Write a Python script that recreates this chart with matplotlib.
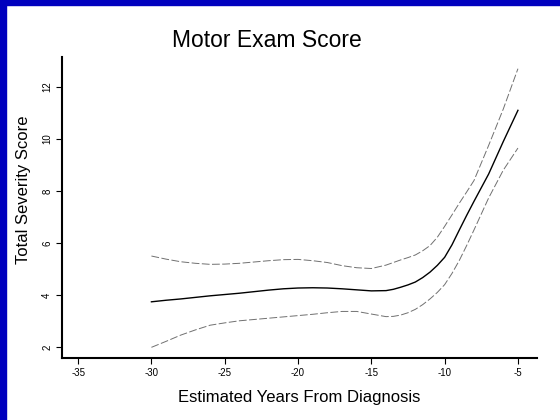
import matplotlib.pyplot as plt
from matplotlib.patches import Rectangle

plt.rcParams['font.family'] = ['Liberation Sans', 'DejaVu Sans']
plt.rcParams['axes.unicode_minus'] = False

# fitted severity curve with pointwise bands
years = [-30, -29, -28, -27, -26, -25, -24, -23, -22, -21, -20, -19, -18,
         -17, -16, -15, -14, -13.5, -13, -12.5, -12, -11.5, -11, -10.5, -10,
         -9.5, -9, -8.5, -8, -7, -6, -5]
fit = [3.74, 3.80, 3.85, 3.91, 3.97, 4.02, 4.07, 4.13, 4.19, 4.24, 4.27, 4.28, 4.27,
       4.24, 4.20, 4.16, 4.17, 4.22, 4.30, 4.39, 4.50, 4.67, 4.88, 5.14, 5.45,
       5.93, 6.50, 7.06, 7.60, 8.65, 9.90, 11.10]
upper = [5.50, 5.38, 5.28, 5.22, 5.18, 5.19, 5.22, 5.27, 5.32, 5.36, 5.37, 5.32, 5.25,
         5.13, 5.05, 5.02, 5.15, 5.25, 5.35, 5.44, 5.54, 5.70, 5.90, 6.22, 6.64,
         7.08, 7.53, 7.96, 8.40, 9.75, 11.15, 12.70]
lower = [1.99, 2.22, 2.46, 2.66, 2.84, 2.93, 3.01, 3.06, 3.11, 3.16, 3.21, 3.26, 3.32,
         3.37, 3.37, 3.27, 3.17, 3.18, 3.23, 3.32, 3.45, 3.63, 3.85, 4.10, 4.40,
         4.83, 5.33, 5.90, 6.50, 7.73, 8.80, 9.65]

xticks = [-35, -30, -25, -20, -15, -10, -5]
yticks = [2, 4, 6, 8, 10, 12]

fig = plt.figure(figsize=(5.6, 4.2), dpi=100)
fig.patch.set_facecolor('white')
# slide frame on the left and top
fig.patches.append(Rectangle((0, 0), 6 / 560, 1, transform=fig.transFigure,
                             color='#0000BE', zorder=0))
fig.patches.append(Rectangle((0, 1 - 5 / 420), 1, 5 / 420, transform=fig.transFigure,
                             color='#0000BE', zorder=0))

ax = fig.add_axes([62 / 560, 62 / 420, 475 / 560, 301 / 420])
ax.plot(years, fit, color='black', lw=1.0)
ax.plot(years, upper, color='#707070', lw=0.7, dashes=(8, 2.5))
ax.plot(years, lower, color='#707070', lw=0.7, dashes=(8, 2.5))

ax.set_xlim(-36.1, -3.7)
ax.set_ylim(1.58, 13.15)
ax.set_xticks(xticks)
ax.set_yticks(yticks)
ax.set_xticklabels([str(t) for t in xticks], fontsize=7)
ax.set_yticklabels([str(t) for t in yticks], fontsize=7, rotation=90, va='center')
ax.tick_params(length=4, width=0.8, pad=3, color='black')
for side in ['top', 'right']:
    ax.spines[side].set_visible(False)
for side in ['left', 'bottom']:
    ax.spines[side].set_linewidth(1.5)

ax.set_xlabel('Estimated Years From Diagnosis', fontsize=12, labelpad=9)
ax.set_ylabel('Total Severity Score', fontsize=12)
ax.yaxis.set_label_coords(-0.066, 0.56)
fig.text(267 / 560, 1 - 47 / 420, 'Motor Exam Score', fontsize=16.5,
         ha='center', va='baseline')

fig.savefig('out.png', dpi=100)
